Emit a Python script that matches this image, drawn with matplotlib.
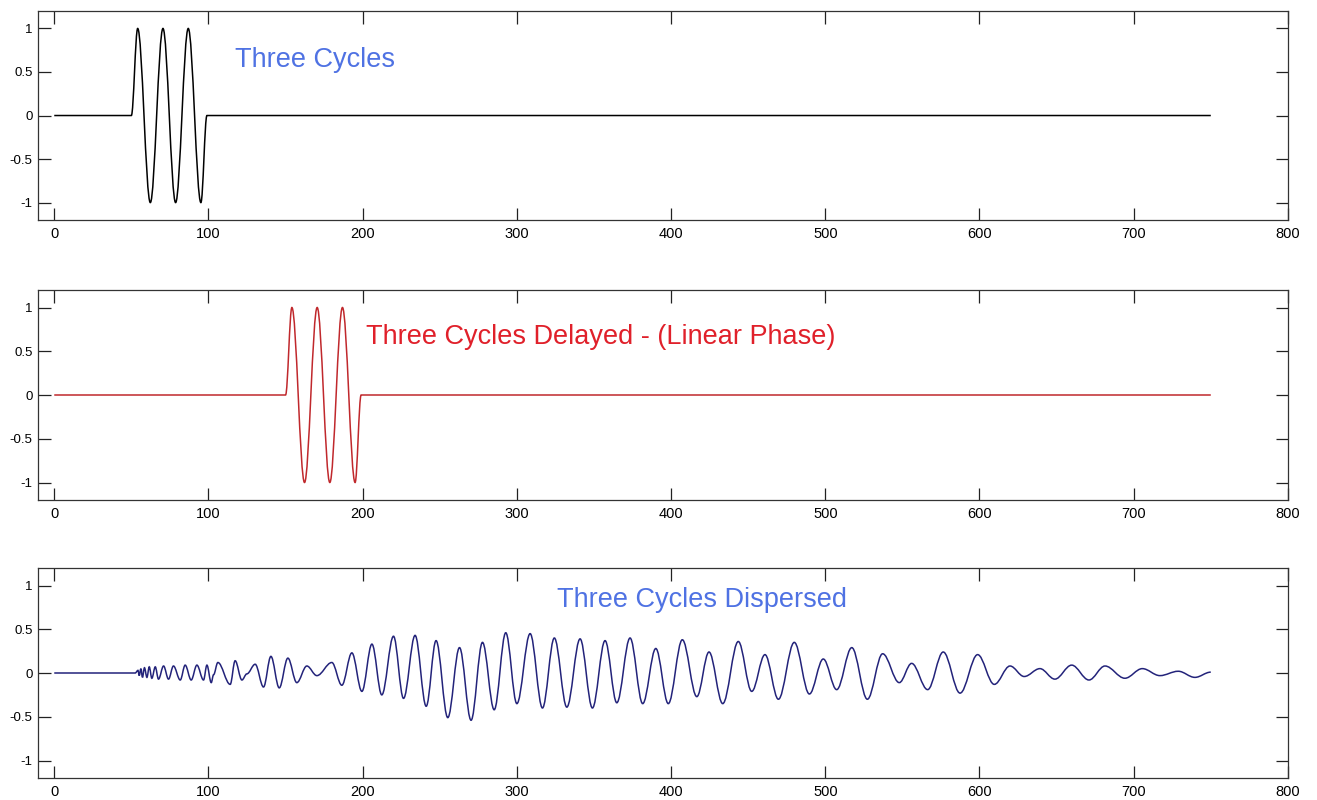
import numpy as np
import matplotlib
matplotlib.use('Agg')
import matplotlib.pyplot as plt
from matplotlib.path import Path
from matplotlib.patches import PathPatch

plt.rcParams['font.family'] = ['Liberation Sans', 'DejaVu Sans']

# extrema of the three-cycle burst
burst_x = [0, 50, 54.1, 62.3, 70.5, 78.7, 86.9, 95.1, 99, 750]
burst_y = [0, 0, 1, -1, 1, -1, 1, -1, 0, 0]

# same burst delayed by 100 samples (middle panel)
delayed_x = [0, 150, 154.1, 162.3, 170.5, 178.7, 186.9, 195.1, 199, 750]
delayed_y = [0, 0, 1, -1, 1, -1, 1, -1, 0, 0]

# extrema of the dispersed signal (bottom panel)
disp_x = [0, 52.5, 54.3, 55.1, 56.2, 57.2, 58.5, 60.1, 61.6, 63.3, 65.5, 67.6,
          70.9, 74.1, 77.3, 81.7, 84.9, 88.8, 92.5, 96.8, 99.0, 101.8, 103.3,
          106.1, 114.1, 117.3, 121.7, 124.9, 130.3, 135.7, 140.5, 145.9, 151.5,
          157.3, 163.8, 170.3, 180.0, 186.5, 193.0, 199.5, 206.0, 212.4, 220.0,
          226.5, 234.0, 241.2, 247.6, 255.2, 262.8, 270.3, 277.7, 285.3, 292.8,
          300.0, 308.6, 316.6, 324.3, 332.4, 341.0, 349.0, 357.2, 364.8, 373.4,
          381.6, 390.1, 398.2, 407.3, 416.7, 424.6, 433.5, 443.6, 452.3, 460.9,
          469.6, 479.9, 489.7, 498.7, 507.4, 517.2, 527.3, 537.2, 548.0, 556.0,
          566.4, 576.5, 587.4, 598.8, 609.6, 619.8, 629.0, 639.2, 648.9, 659.8,
          671.0, 681.4, 694.3, 705.6, 717.0, 728.9, 739.7, 750]
disp_y = [0, 0, 0.03, -0.03, 0.05, -0.05, 0.06, -0.05, 0.07, -0.06, 0.07, -0.07,
          0.08, -0.07, 0.08, -0.08, 0.09, -0.08, 0.09, -0.08, 0.09, -0.11, -0.02,
          0.12, -0.13, 0.14, -0.08, -0.01, 0.10, -0.16, 0.19, -0.17, 0.17,
          -0.11, 0.08, -0.03, 0.12, -0.14, 0.23, -0.21, 0.33, -0.25, 0.42,
          -0.29, 0.43, -0.38, 0.37, -0.51, 0.29, -0.54, 0.35, -0.42, 0.46,
          -0.35, 0.45, -0.40, 0.40, -0.39, 0.39, -0.40, 0.37, -0.34, 0.40,
          -0.35, 0.28, -0.35, 0.38, -0.27, 0.24, -0.35, 0.36, -0.21, 0.21,
          -0.30, 0.35, -0.24, 0.16, -0.19, 0.29, -0.30, 0.22, -0.11, 0.11,
          -0.19, 0.24, -0.23, 0.21, -0.13, 0.08, -0.04, 0.05, -0.07, 0.09,
          -0.08, 0.08, -0.06, 0.05, -0.03, 0.02, -0.05, 0.01]

xticks = [0, 100, 200, 300, 400, 500, 600, 700, 800]
yticks = [-1, -0.5, 0, 0.5, 1]
ytick_labels = ['-1', '-0.5', '0', '0.5', '1']


def smooth_path(xs, ys, k=0.36):
    # cubic segments with flat tangents at every extremum
    verts = [(xs[0], ys[0])]
    codes = [Path.MOVETO]
    for i in range(len(xs) - 1):
        x0, y0, x1, y1 = xs[i], ys[i], xs[i + 1], ys[i + 1]
        d = (x1 - x0) * k
        verts += [(x0 + d, y0), (x1 - d, y1), (x1, y1)]
        codes += [Path.CURVE4] * 3
    return Path(verts, codes)


fig = plt.figure(figsize=(13.17, 8), dpi=100)
boxes = [[0.0289, 0.725, 0.949, 0.2612],
         [0.0289, 0.375, 0.949, 0.2625],
         [0.0289, 0.0275, 0.949, 0.2625]]
series = [(burst_x, burst_y, 'black'),
          (delayed_x, delayed_y, '#c0282c'),
          (disp_x, disp_y, '#23237a')]
labels = [('Three Cycles', 117, 0.64, '#4f72e3'),
          ('Three Cycles Delayed - (Linear Phase)', 202, 0.66, '#e0202a'),
          ('Three Cycles Dispersed', 326, 0.83, '#4f72e3')]

for box, (xs, ys, col), (txt, tx, ty, tc) in zip(boxes, series, labels):
    ax = fig.add_axes(box)
    ax.add_patch(PathPatch(smooth_path(xs, ys), fill=False, edgecolor=col, lw=1.1))
    ax.set_xlim(-10.5, 800)
    ax.set_ylim(-1.2, 1.2)
    ax.set_xticks(xticks)
    ax.set_yticks(yticks)
    ax.set_yticklabels(ytick_labels)
    ax.tick_params(direction='in', length=9, width=0.9, top=True, right=True,
                   color='#222222')
    ax.tick_params(axis='x', labelsize=10.5, pad=5)
    ax.tick_params(axis='y', labelsize=9.5, pad=4)
    for s in ax.spines.values():
        s.set_color('#333333')
        s.set_linewidth(0.9)
    ax.text(tx, ty, txt, color=tc, fontsize=19.5, va='center', ha='left')

plt.savefig('out.png', dpi=100)
